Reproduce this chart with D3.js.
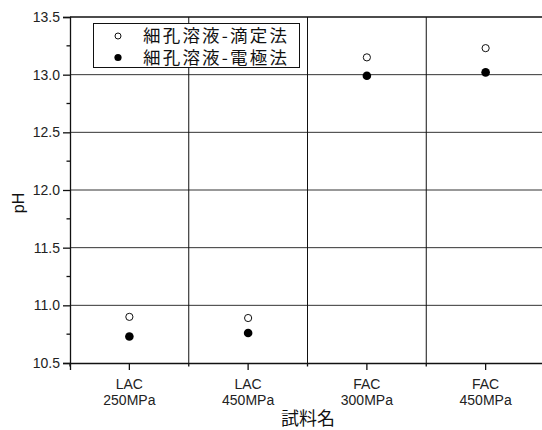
<!DOCTYPE html>
<html>
<head>
<meta charset="utf-8">
<script src="https://cdn.jsdelivr.net/npm/d3@7"></script>
<style>
  html, body { margin: 0; padding: 0; background: #fff; }
  svg { display: block; }
</style>
</head>
<body>
<svg id="chart" width="542" height="430"></svg>
<script>
// Samples (two-line labels) and measured pore-solution pH
const categories = ["LAC\n250MPa", "LAC\n450MPa", "FAC\n300MPa", "FAC\n450MPa"];
const titrationPH = [10.9, 10.89, 13.15, 13.23];   // 細孔溶液-滴定法
const electrodePH = [10.73, 10.76, 12.99, 13.02];  // 細孔溶液-電極法
const yTicks = [10.5, 11.0, 11.5, 12.0, 12.5, 13.0, 13.5];
const seriesNames = ["細孔溶液-滴定法", "細孔溶液-電極法"];

const svg = d3.select("#chart");
const plotL = 70, plotR = 545, plotT = 17, plotB = 363;
const latin = "'Liberation Sans', Arial, sans-serif";
const cjk = "'Noto Sans CJK JP', sans-serif";

const x = d3.scaleBand().domain(categories).range([plotL, plotR]).paddingInner(0).paddingOuter(0);
const y = d3.scaleLinear().domain([10.5, 13.5]).range([plotB, plotT]);

// horizontal grid lines at major ticks
svg.append("g").selectAll("line").data(yTicks.slice(1, -1)).join("line")
  .attr("x1", plotL).attr("x2", plotR)
  .attr("y1", d => y(d)).attr("y2", d => y(d))
  .attr("stroke", "#333").attr("stroke-width", 1);

// top frame line
svg.append("line").attr("x1", plotL).attr("x2", plotR).attr("y1", plotT).attr("y2", plotT)
  .attr("stroke", "#111").attr("stroke-width", 1.3);

// vertical separators between samples
svg.append("g").selectAll("line").data(categories.slice(1)).join("line")
  .attr("x1", d => x(d)).attr("x2", d => x(d))
  .attr("y1", plotT).attr("y2", plotB)
  .attr("stroke", "#111").attr("stroke-width", 1);

// y axis
const yAxis = d3.axisLeft(y).tickValues(yTicks).tickFormat(d3.format(".1f")).tickSize(7).tickPadding(3);
const gy = svg.append("g").attr("transform", `translate(${plotL},0)`).call(yAxis);
gy.select(".domain").attr("stroke", "#111").attr("stroke-width", 1.3);
gy.selectAll(".tick line").attr("stroke", "#111").attr("stroke-width", 1.3);
gy.selectAll("text").attr("font-family", latin).attr("font-size", 14).attr("fill", "#222");
// y minor ticks
const yMinor = d3.range(10.75, 13.5, 0.5);
svg.append("g").selectAll("line").data(yMinor).join("line")
  .attr("x1", plotL - 3.5).attr("x2", plotL)
  .attr("y1", d => y(d)).attr("y2", d => y(d))
  .attr("stroke", "#111").attr("stroke-width", 1.3);

// x axis
const xAxis = d3.axisBottom(x).tickSize(7).tickFormat("");
const gx = svg.append("g").attr("transform", `translate(0,${plotB})`).call(xAxis);
gx.select(".domain").attr("stroke", "#111").attr("stroke-width", 1.3);
gx.selectAll(".tick line").attr("stroke", "#111").attr("stroke-width", 1.3);
// x minor ticks at band edges
svg.append("g").selectAll("line").data(categories).join("line")
  .attr("x1", d => x(d)).attr("x2", d => x(d))
  .attr("y1", plotB).attr("y2", plotB + 3.5)
  .attr("stroke", "#111").attr("stroke-width", 1.3);

// x tick labels on two lines
const xl = svg.append("g").selectAll("text").data(categories).join("text")
  .attr("x", d => x(d) + x.bandwidth() / 2)
  .attr("text-anchor", "middle")
  .attr("font-family", latin).attr("font-size", 14).attr("fill", "#222");
xl.each(function(d) {
  const parts = d.split("\n");
  d3.select(this).selectAll("tspan").data(parts).join("tspan")
    .attr("x", x(d) + x.bandwidth() / 2)
    .attr("y", (p, i) => 389 + i * 15.5)
    .text(p => p);
});

// axis titles
svg.append("text").attr("x", 308).attr("y", 425).attr("text-anchor", "middle")
  .attr("font-family", cjk).attr("font-size", 18).attr("fill", "#111").text("試料名");
svg.append("text").attr("transform", "translate(24,203) rotate(-90)").attr("text-anchor", "middle")
  .attr("font-family", latin).attr("font-size", 16).attr("fill", "#111").text("pH");

// data points
const cx = d => x(d) + x.bandwidth() / 2;
svg.append("g").selectAll("circle").data(categories).join("circle")
  .attr("cx", cx).attr("cy", (d, i) => y(titrationPH[i])).attr("r", 3.6)
  .attr("fill", "#fff").attr("stroke", "#111").attr("stroke-width", 1);
svg.append("g").selectAll("circle").data(categories).join("circle")
  .attr("cx", cx).attr("cy", (d, i) => y(electrodePH[i])).attr("r", 4.3)
  .attr("fill", "#000");

// legend
const lg = svg.append("g");
lg.append("rect").attr("x", 93.5).attr("y", 23.5).attr("width", 206).attr("height", 44)
  .attr("fill", "#fff").attr("stroke", "#111").attr("stroke-width", 1);
const rows = [36, 57.5];
lg.append("circle").attr("cx", 118).attr("cy", rows[0]).attr("r", 3)
  .attr("fill", "#fff").attr("stroke", "#111").attr("stroke-width", 1);
lg.append("circle").attr("cx", 118).attr("cy", rows[1]).attr("r", 3.6).attr("fill", "#000");
lg.selectAll("text").data(seriesNames).join("text")
  .attr("x", 143).attr("y", (d, i) => rows[i]).attr("dy", "0.36em")
  .attr("font-family", cjk).attr("font-size", 17.5).attr("fill", "#111")
  .attr("textLength", 144).attr("lengthAdjust", "spacing")
  .text(d => d);
</script>
</body>
</html>
